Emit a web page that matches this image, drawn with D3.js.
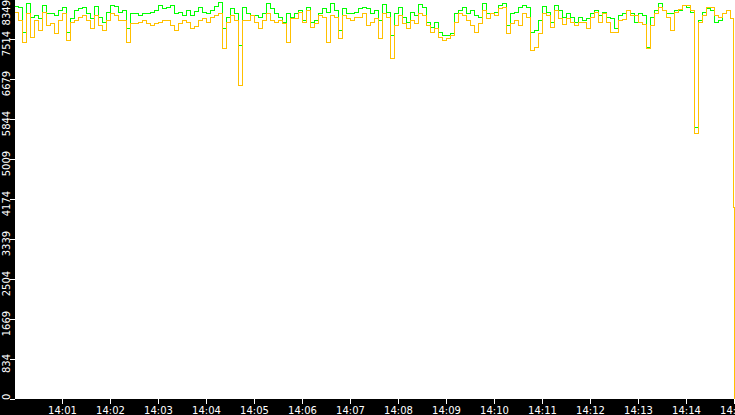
<!DOCTYPE html>
<html>
<head>
<meta charset="utf-8">
<script src="https://cdn.jsdelivr.net/npm/d3@7"></script>
<style>
  body { margin: 0; background: #fff; }
  text { font-family: "DejaVu Sans", sans-serif; font-size: 10px; fill: #fff; }
</style>
</head>
<body>
<div id="chart"></div>
<script>
// samples every 5 seconds starting 14:00:00
var startTime = "14:00:00";
var stepSeconds = 5;

var greenValues = [
  8203, 8182, 7660, 8266, 7973, 8015, 7952, 8224, 8057, 8050,
  8015, 8119, 8182, 7660, 7952, 8119, 8161, 8182, 8057, 7952,
  8203, 7973, 7869, 8078, 8224, 8203, 8078, 8119, 7744, 8057,
  8050, 8015, 8057, 8060, 8078, 8119, 8224, 8161, 8182, 8224,
  8057, 8078, 8015, 8119, 8015, 8098, 8182, 8078, 8057, 8119,
  8203, 8286, 7744, 7973, 8161, 8057, 7389, 8182, 8057, 8015,
  8015, 7973, 8057, 8266, 8161, 8057, 7973, 7869, 8057, 7973,
  8057, 8119, 7911, 8182, 7869, 7911, 8057, 8161, 8078, 8266,
  8119, 7702, 8161, 8057, 8050, 8078, 8161, 8182, 8161, 8057,
  8119, 7911, 8245, 8078, 7597, 8057, 8182, 7973, 7869, 8078,
  8015, 8245, 8182, 7869, 7764, 7869, 7660, 7597, 7597, 7639,
  8057, 8119, 8182, 8057, 8119, 8015, 7973, 8266, 8057, 8050,
  8078, 8224, 8266, 7806, 8057, 8078, 8182, 8224, 8182, 7660,
  7702, 7911, 8203, 8078, 7869, 8224, 8119, 7973, 8057, 7973,
  7869, 7973, 7911, 7952, 8057, 8119, 8015, 8078, 7973, 7952,
  7744, 8015, 8057, 8119, 8057, 7869, 8057, 8015, 7347, 7973,
  8119, 8266, 8119, 8057, 8057, 8119, 8119, 8224, 8182, 8078,
  5677, 7911, 8078, 8161, 8119, 7869, 7911, 8057, 8119, 8015
];

var orangeValues = [
  8078, 7911, 7451, 8057, 7556, 7911, 7702, 8078, 7806, 7848,
  7639, 7911, 8057, 7493, 7869, 7911, 7973, 8015, 7911, 7744,
  8015, 7806, 7702, 7911, 8057, 8015, 7911, 7905, 7451, 7848,
  7848, 7869, 7911, 7848, 7806, 7848, 7869, 7911, 7905, 7806,
  7702, 7848, 7911, 7869, 7744, 7785, 7911, 7952, 7869, 7973,
  8015, 8057, 7326, 7869, 8015, 7911, 6554, 7911, 7905, 8015,
  7869, 7744, 7911, 8057, 7911, 7869, 7911, 7848, 7451, 7952,
  7952, 8078, 7869, 8119, 7764, 7848, 8015, 7973, 7451, 8015,
  7973, 7535, 8015, 7952, 7911, 7973, 7973, 8057, 7806, 7869,
  7952, 7535, 8057, 7973, 7117, 7806, 8015, 7848, 7744, 7911,
  7848, 8057, 8015, 7806, 7660, 7744, 7556, 7493, 7535, 7597,
  7869, 8057, 8015, 7911, 7806, 7660, 7848, 8119, 7952, 8057,
  8015, 8161, 8182, 7639, 7848, 7911, 7806, 8057, 7973, 7285,
  7347, 7639, 8057, 8015, 7764, 8119, 7952, 7827, 7952, 7869,
  7806, 7869, 7869, 7744, 7973, 8078, 7869, 8057, 7869, 7660,
  7660, 7911, 7931, 8119, 8015, 8015, 7869, 7827, 7326, 7806,
  8057, 8182, 8119, 7973, 7702, 8078, 8140, 8224, 8224, 8119,
  5552, 7869, 8015, 8182, 8182, 8015, 7973, 8057, 8119, 7952
];

// last two orange readings right before 14:15
var tailSeconds = [899, 900];
var tailOrange = [4010, 0];

var yTickValues = [0, 834, 1669, 2504, 3339, 4174, 5009, 5844, 6679, 7514, 8349];
var xTickLabels = ["14:01", "14:02", "14:03", "14:04", "14:05", "14:06", "14:07", "14:08",
                   "14:09", "14:10", "14:11", "14:12", "14:13", "14:14", "14:15"];

var width = 735, height = 415;
var axisLeft = 15, axisBottom = 399;
var parseTime = d3.timeParse("%H:%M:%S");
var parseTick = d3.timeParse("%H:%M");
var t0 = parseTime(startTime);

function toPoints(values, extraSec, extraVals) {
    var pts = values.map(function (v, i) {
        return { t: d3.timeSecond.offset(t0, i * stepSeconds), v: v };
    });
    if (extraSec) {
        extraSec.forEach(function (s, i) {
            pts.push({ t: d3.timeSecond.offset(t0, s), v: extraVals[i] });
        });
    }
    return pts;
}

var greenData = toPoints(greenValues);
var orangeData = toPoints(orangeValues, tailSeconds, tailOrange);

var xScale = d3.scaleTime()
    .domain([t0, d3.timeMinute.offset(t0, 15)])
    .range([14, 734]);

var yScale = d3.scaleLinear()
    .domain([0, 8349])
    .range([axisBottom, -1]);

var svg = d3.select("#chart").append("svg")
    .attr("width", width)
    .attr("height", height);

svg.append("rect")
    .attr("width", width)
    .attr("height", height)
    .attr("fill", "#fff");

// pixel snapped step line, like the original plot
var line = d3.line()
    .curve(d3.curveStepAfter)
    .x(function (d) { return Math.round(xScale(d.t)) + 0.5; })
    .y(function (d) { return Math.round(yScale(d.v)) + 0.5; });

var plot = svg.append("g");

plot.append("path")
    .datum(greenData)
    .attr("d", line)
    .attr("fill", "none")
    .attr("stroke", "#00ff00")
    .attr("stroke-width", 1)
    .attr("shape-rendering", "crispEdges");

plot.append("path")
    .datum(orangeData)
    .attr("d", line)
    .attr("fill", "none")
    .attr("stroke", "#ffc000")
    .attr("stroke-width", 1)
    .attr("shape-rendering", "crispEdges");

// black axis bands
svg.append("rect")
    .attr("x", 0).attr("y", 0)
    .attr("width", axisLeft).attr("height", height)
    .attr("fill", "#000");

svg.append("rect")
    .attr("x", 0).attr("y", axisBottom)
    .attr("width", width).attr("height", height - axisBottom)
    .attr("fill", "#000");

// y axis ticks and rotated labels
var yAxis = svg.append("g");
yTickValues.forEach(function (v) {
    var y = Math.round(yScale(v)) + 0.5;
    yAxis.append("line")
        .attr("x1", 10).attr("x2", axisLeft)
        .attr("y1", y).attr("y2", y)
        .attr("stroke", "#fff")
        .attr("shape-rendering", "crispEdges");

    var label = yAxis.append("text")
        .attr("text-anchor", "middle")
        .text(v);
    var w = label.node().getComputedTextLength();
    var cy = Math.max(w / 2, Math.min(axisBottom + 1 - w / 2, yScale(v) + 4.5));
    label.attr("transform", "translate(9.5," + cy + ") rotate(-90)");
});

// x axis ticks and labels
var xAxis = svg.append("g");
xTickLabels.forEach(function (s) {
    var x = Math.round(xScale(parseTick(s))) + 0.5;
    xAxis.append("line")
        .attr("x1", x).attr("x2", x)
        .attr("y1", axisBottom).attr("y2", 404)
        .attr("stroke", "#fff")
        .attr("shape-rendering", "crispEdges");

    xAxis.append("text")
        .attr("x", x)
        .attr("y", 414)
        .attr("text-anchor", "middle")
        .text(s);
});
</script>
</body>
</html>
